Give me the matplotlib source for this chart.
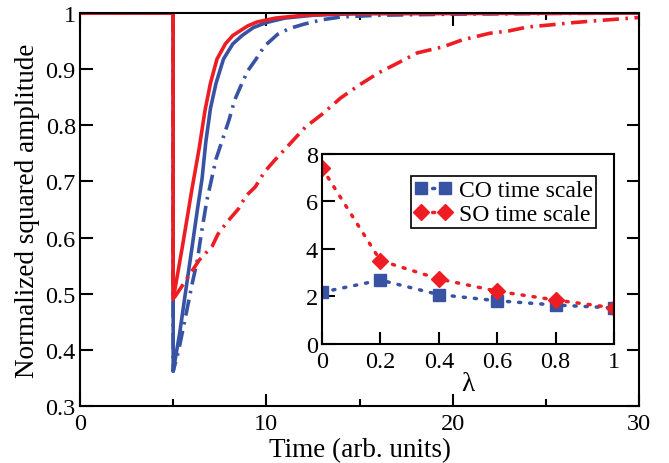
import numpy as np
import matplotlib
matplotlib.use("Agg")
import matplotlib.pyplot as plt

plt.rcParams['font.family'] = ['Liberation Serif', 'DejaVu Serif']
plt.rcParams['mathtext.fontset'] = 'stix'

BLUE = '#3953a4'
RED = '#ee1d23'

# main panel: squared amplitude vs time
t_red = [0, 5, 5, 5.5, 6.0, 6.4, 6.7, 7.0, 7.35, 7.8, 8.2, 9.0, 9.5, 10.5, 12, 14, 30]
a_red = [1, 1, 0.49, 0.585, 0.685, 0.76, 0.825, 0.875, 0.918, 0.945, 0.96, 0.977, 0.984, 0.991, 0.996, 0.999, 1.0]

t_blue = [0, 5, 5, 5.35, 5.65, 6.0, 6.3, 6.55, 6.75, 7.0, 7.3, 7.7, 8.2, 8.7, 9.3, 10, 11, 12.5, 15, 30]
a_blue = [1, 1, 0.362, 0.43, 0.50, 0.58, 0.65, 0.705, 0.77, 0.83, 0.875, 0.918, 0.945, 0.96, 0.974, 0.983, 0.991, 0.996, 0.999, 1.0]

t_blue_dd = [0, 5, 5, 5.3, 5.7, 6.0, 6.3, 6.5, 6.8, 7.0, 7.3, 7.6, 8.0, 8.3, 8.6, 9.0, 9.45, 9.9,
             10.6, 11.2, 12, 13, 14, 16, 20, 30]
a_blue_dd = [1, 1, 0.362, 0.40, 0.465, 0.515, 0.56, 0.605, 0.665, 0.695, 0.74, 0.77, 0.81, 0.845, 0.868,
             0.897, 0.918, 0.941, 0.962, 0.972, 0.98, 0.988, 0.993, 0.996, 0.998, 1.0]

t_red_dd = [0, 5, 5, 5.5, 6.0, 6.4, 7.1, 7.4, 7.9, 8.5, 8.9, 9.4, 9.9, 10.4, 12.1, 13.0, 14, 15, 16, 17,
            18.1, 19.5, 20.5, 22, 23, 24, 25.3, 26.5, 28, 30]
a_red_dd = [1, 1, 0.49, 0.515, 0.54, 0.56, 0.585, 0.606, 0.628, 0.651, 0.674, 0.69, 0.717, 0.736, 0.797,
            0.82, 0.849, 0.872, 0.893, 0.91, 0.929, 0.94, 0.952, 0.964, 0.968, 0.975, 0.979, 0.983, 0.987, 0.992]

# inset: time scales vs lambda
lam = [0, 0.2, 0.4, 0.6, 0.8, 1.0]
co_scale = [2.18, 2.69, 2.08, 1.82, 1.64, 1.52]
so_scale = [7.41, 3.51, 2.74, 2.22, 1.85, 1.52]

fig = plt.figure(figsize=(6.69, 4.64), dpi=100)
ax = fig.add_axes([0.1196, 0.1228, 0.8356, 0.847])

dd = (0, (4.5, 1.8, 0.7, 1.8))
ax.plot(t_blue, a_blue, color=BLUE, lw=2.6)
ax.plot(t_blue_dd, a_blue_dd, color=BLUE, lw=2.6, ls=dd)
ax.plot(t_red_dd, a_red_dd, color=RED, lw=2.6, ls=dd)
ax.plot(t_red, a_red, color=RED, lw=2.6)

ax.set_xlim(0, 30)
ax.set_ylim(0.3, 1.0)
ax.set_xticks([0, 10, 20, 30])
ax.set_xticks([5, 15, 25], minor=True)
ax.set_yticks(np.arange(0.3, 1.01, 0.1))
ax.set_yticklabels(['0.3', '0.4', '0.5', '0.6', '0.7', '0.8', '0.9', '1'])
ax.tick_params(which='both', direction='in', top=True, right=True, labelsize=17.5, width=1.5)
ax.tick_params(which='major', length=9)
ax.tick_params(which='minor', length=5)
ax.tick_params(axis='x', pad=5)
ax.tick_params(axis='y', pad=3)
for s in ax.spines.values():
    s.set_linewidth(1.5)
ax.set_xlabel('Time (arb. units)', fontsize=19.5, labelpad=2)
ax.set_ylabel('Normalized squared amplitude', fontsize=19.5, labelpad=4)

ins = fig.add_axes([0.4813, 0.2565, 0.4365, 0.4095])
ins.plot(lam, co_scale, color=BLUE, lw=2.5, ls=(0, (0.6, 2.6)), dash_capstyle='round',
         marker='s', ms=9, mec=BLUE, label='CO time scale')
ins.plot(lam, so_scale, color=RED, lw=2.5, ls=(0, (0.6, 2.6)), dash_capstyle='round',
         marker='D', ms=8.5, mec=RED, label='SO time scale')
ins.set_xlim(0, 1)
ins.set_ylim(0, 8)
ins.set_xticks([0, 0.2, 0.4, 0.6, 0.8, 1.0])
ins.set_xticklabels(['0', '0.2', '0.4', '0.6', '0.8', '1'])
ins.set_yticks([0, 2, 4, 6, 8])
ins.tick_params(direction='in', labelsize=17.5, length=9, width=1.5, pad=3)
ins.tick_params(axis='x', pad=5)
for s in ins.spines.values():
    s.set_linewidth(1.5)
ins.set_xlabel('λ', fontsize=19.5, labelpad=-1)
leg = ins.legend(loc='upper right', bbox_to_anchor=(0.94, 0.885), numpoints=2, fontsize=17,
                 frameon=True, fancybox=False, edgecolor='black', framealpha=1,
                 handlelength=1.6, handletextpad=0.3, borderpad=0.15, labelspacing=0.1,
                 borderaxespad=0)
leg.get_frame().set_linewidth(1.2)

fig.savefig('out.png', dpi=100)
